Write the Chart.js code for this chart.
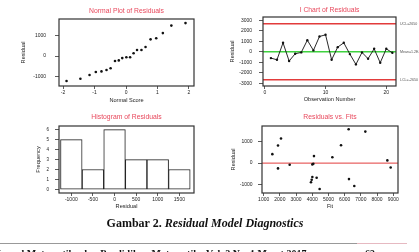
<!DOCTYPE html>
<html>
<head>
<meta charset="utf-8">
<script src="https://cdn.jsdelivr.net/npm/chart.js@4.4.0/dist/chart.umd.min.js"></script>
<style>
  html, body { margin: 0; padding: 0; background: #fff; }
  body { width: 419px; height: 252px; position: relative; overflow: hidden; }
  canvas { position: absolute; }
  #normalPlot { left: 0; top: 0; }
  #iChart { left: 210px; top: 0; }
  #histogram { left: 0; top: 105px; }
  #residFits { left: 210px; top: 105px; }
  .caption {
    position: absolute; left: 0; top: 216px; width: 410px; text-align: center;
    font-family: "Liberation Serif", "DejaVu Serif", serif; font-weight: bold;
    font-size: 12px; color: #111; white-space: nowrap;
  }
  .rule { position: absolute; top: 243px; height: 1px; }
  .footer {
    position: absolute; top: 248px; font-family: "Liberation Serif", serif;
    font-weight: bold; font-size: 10px; color: #111; white-space: nowrap;
  }
</style>
</head>
<body>
<canvas id="normalPlot" width="210" height="110"></canvas>
<canvas id="iChart" width="209" height="110"></canvas>
<canvas id="histogram" width="210" height="110"></canvas>
<canvas id="residFits" width="209" height="110"></canvas>

<div class="caption">Gambar 2. <i>Residual Model Diagnostics</i></div>
<div class="rule" style="left:0; width:357px; background:#999;"></div>
<div class="rule" style="left:357px; width:50px; background:#e6b9c1;"></div>
<div class="footer" style="left:-4px;">Jurnal Matematika dan Pendidikan Matematika Vol. 2 No. 1 Maret 2017</div>
<div class="footer" style="left:365px;">63</div>

<script>
// ---- data ----
const normalScores = [-1.89, -1.45, -1.16, -0.96, -0.78, -0.62, -0.49, -0.35, -0.23, -0.12, 0.01,
                      0.13, 0.24, 0.35, 0.49, 0.62, 0.78, 0.96, 1.17, 1.44, 1.89];
const sortedResiduals = [-1200, -1090, -910, -770, -740, -670, -590, -240, -210, -100, -60,
                         -60, 130, 290, 290, 430, 800, 850, 1100, 1460, 1580];

const observationNumbers = [1, 2, 3, 4, 5, 6, 7, 8, 9, 10, 11, 12, 13, 14, 15, 16, 17, 18, 19, 20, 21];
const orderedResiduals = [-600, -760, 850, -880, -190, -60, 1100, 130, 1450, 1610, -760,
                          440, 850, -220, -1200, -60, -660, 280, -1040, 280, -100];
const controlLimits = [
  { value: 2650, label: 'UCL=2650', color: '#e23b3b' },
  { value: 0, label: 'Mean=1.2E-13', color: '#3fd23f' },
  { value: -2650, label: 'LCL=-2650', color: '#e23b3b' }
];

const binCenters = [-1000, -500, 0, 500, 1000, 1500];
const binCounts = [5, 2, 6, 3, 3, 2];

const fits = [1535, 1885, 2070, 1885, 2605, 4005, 4065, 4105, 4005, 3965, 3920,
              4270, 4455, 5240, 5775, 6245, 7275, 6265, 6595, 8635, 8840];
const fitResiduals = [415, 815, 1140, -245, -75, -60, -30, 325, -645, -770, -890,
                      -675, -1200, 275, 830, 1570, 1460, -740, -1060, 125, -200];

// tick labels
const normalXTicks = [-2, -1, 0, 1, 2];
const normalYTicks = [-1000, 0, 1000];
const iChartXTicks = [0, 10, 20];
const iChartYTicks = [-3000, -2000, -1000, 0, 1000, 2000, 3000];
const histXTicks = [-1000, -500, 0, 500, 1000, 1500];
const histYTicks = [0, 1, 2, 3, 4, 5, 6];
const fitsXTicks = [1000, 2000, 3000, 4000, 5000, 6000, 7000, 8000, 9000];
const fitsYTicks = [-1000, 0, 1000];

// ---- styling ----
const FONT = '"Liberation Sans", Arial, sans-serif';
const TITLE_COLOR = '#e8485c';
const INK = '#222';

// full box around the plot area + title centred over it (Minitab style)
const framePlugin = {
  id: 'frame',
  afterDraw(chart, args, opts) {
    const { ctx, chartArea: a } = chart;
    ctx.save();
    ctx.strokeStyle = '#333';
    ctx.lineWidth = 1.2;
    ctx.strokeRect(a.left, a.top, a.right - a.left, a.bottom - a.top);
    if (opts.title) {
      ctx.fillStyle = TITLE_COLOR;
      ctx.font = '6.8px ' + FONT;
      ctx.textAlign = 'center';
      ctx.textBaseline = 'middle';
      ctx.fillText(opts.title, (a.left + a.right) / 2, opts.titleY);
    }
    ctx.restore();
  }
};

// horizontal reference lines, positioned through the y scale
const refLinePlugin = {
  id: 'refLines',
  beforeDatasetsDraw(chart, args, opts) {
    const { ctx, chartArea: a } = chart;
    const y = chart.scales.y;
    (opts.lines || []).forEach(l => {
      const py = y.getPixelForValue(l.value);
      ctx.save();
      ctx.strokeStyle = l.color;
      ctx.lineWidth = opts.width || 1;
      ctx.beginPath();
      ctx.moveTo(a.left, py);
      ctx.lineTo(a.right, py);
      ctx.stroke();
      if (l.label) {
        ctx.fillStyle = '#555';
        ctx.font = '3.6px ' + FONT;
        ctx.textBaseline = 'middle';
        ctx.fillText(l.label, a.right + 4, py);
      }
      ctx.restore();
    });
  }
};

function buildOptions(c) {
  return {
    responsive: false,
    animation: false,
    layout: { padding: { left: 0, right: c.padRight, top: c.plotTop, bottom: 0 }, autoPadding: false },
    plugins: {
      legend: { display: false },
      tooltip: { enabled: false },
      title: { display: false },
      frame: { title: c.title, titleY: c.titleY },
      refLines: c.refLines || {}
    },
    scales: {
      x: {
        type: 'linear',
        offset: false,
        min: c.xMin,
        max: c.xMax,
        afterBuildTicks: s => { s.ticks = c.xTicks.map(v => ({ value: v })); },
        afterFit: s => { s.height = c.xAxisHeight; },
        grid: { offset: false, drawOnChartArea: false, drawTicks: true, tickLength: 3, color: '#333', lineWidth: 0.8 },
        border: { display: false },
        ticks: {
          color: INK, padding: 1, maxRotation: 0, minRotation: 0, autoSkip: false,
          font: { family: FONT, size: 5 },
          callback: v => String(v)
        },
        title: {
          display: true, text: c.xTitle, color: INK,
          font: { family: FONT, size: 5.6 },
          padding: { top: 0, bottom: c.xTitlePad }
        }
      },
      y: {
        type: 'linear',
        min: c.yMin,
        max: c.yMax,
        afterBuildTicks: s => { s.ticks = c.yTicks.map(v => ({ value: v })); },
        afterFit: s => { s.width = c.yAxisWidth; },
        grid: { drawOnChartArea: false, drawTicks: true, tickLength: 4, color: '#333', lineWidth: 0.8 },
        border: { display: false },
        ticks: {
          color: INK, padding: c.yTickPad, autoSkip: false,
          font: { family: FONT, size: c.yTickSize || 5 },
          callback: v => String(v)
        },
        title: {
          display: true, text: c.yTitle, color: INK,
          font: { family: FONT, size: 5.6 },
          padding: { top: c.yTitlePad, bottom: 0 }
        }
      }
    }
  };
}

// Normal plot of residuals
new Chart(document.getElementById('normalPlot'), {
  type: 'scatter',
  data: {
    datasets: [{
      data: normalScores.map((s, i) => ({ x: s, y: sortedResiduals[i] })),
      pointRadius: 1.3, pointBackgroundColor: '#111', pointBorderWidth: 0
    }]
  },
  options: buildOptions({
    title: 'Normal Plot of Residuals', titleY: 11, plotTop: 19,
    xTitle: 'Normal Score', yTitle: 'Residual',
    xMin: -2.13, xMax: 2.16, yMin: -1440, yMax: 1776,
    xTicks: normalXTicks, yTicks: normalYTicks,
    yAxisWidth: 59, xAxisHeight: 24, padRight: 16,
    yTitlePad: 20.5, xTitlePad: 5.7, yTickPad: 9
  }),
  plugins: [framePlugin]
});

// I chart of residuals
new Chart(document.getElementById('iChart'), {
  type: 'line',
  data: {
    datasets: [{
      data: observationNumbers.map((n, i) => ({ x: n, y: orderedResiduals[i] })),
      borderColor: '#111', borderWidth: 0.9, tension: 0,
      pointRadius: 1.2, pointBackgroundColor: '#111', pointBorderWidth: 0
    }]
  },
  options: buildOptions({
    title: 'I Chart of Residuals', titleY: 10, plotTop: 17,
    xTitle: 'Observation Number', yTitle: 'Residual',
    xMin: -0.3, xMax: 21.6, yMin: -3250, yMax: 3300,
    xTicks: iChartXTicks, yTicks: iChartYTicks,
    yAxisWidth: 53, xAxisHeight: 24, padRight: 23,
    yTitlePad: 19.4, xTitlePad: 7.4, yTickPad: 7,
    refLines: { lines: controlLimits, width: 1.5 }
  }),
  plugins: [framePlugin, refLinePlugin]
});

// Histogram of residuals
new Chart(document.getElementById('histogram'), {
  type: 'bar',
  data: {
    datasets: [{
      data: binCenters.map((b, i) => ({ x: b, y: binCounts[i] })),
      backgroundColor: '#fff', borderColor: '#222', borderWidth: 1,
      borderSkipped: false, barPercentage: 1, categoryPercentage: 1
    }]
  },
  options: buildOptions({
    title: 'Histogram of Residuals', titleY: 12, plotTop: 21,
    xTitle: 'Residual', yTitle: 'Frequency',
    xMin: -1285, xMax: 1838, yMin: -0.35, yMax: 6.36,
    xTicks: histXTicks, yTicks: histYTicks,
    yAxisWidth: 59, xAxisHeight: 22, padRight: 16,
    yTitlePad: 35.5, xTitlePad: 5, yTickPad: 6, yTickSize: 4.5
  }),
  plugins: [framePlugin]
});

// Residuals vs. fits
new Chart(document.getElementById('residFits'), {
  type: 'scatter',
  data: {
    datasets: [{
      data: fits.map((f, i) => ({ x: f, y: fitResiduals[i] })),
      pointRadius: 1.3, pointBackgroundColor: '#111', pointBorderWidth: 0
    }]
  },
  options: buildOptions({
    title: 'Residuals vs. Fits', titleY: 12, plotTop: 21,
    xTitle: 'Fit', yTitle: 'Residual',
    xMin: 897, xMax: 9292, yMin: -1385, yMax: 1720,
    xTicks: fitsXTicks, yTicks: fitsYTicks,
    yAxisWidth: 52, xAxisHeight: 22, padRight: 21,
    yTitlePad: 20, xTitlePad: 5, yTickPad: 5.5,
    refLines: { lines: [{ value: 0, color: '#e23b3b' }], width: 1 }
  }),
  plugins: [framePlugin, refLinePlugin]
});
</script>
</body>
</html>
